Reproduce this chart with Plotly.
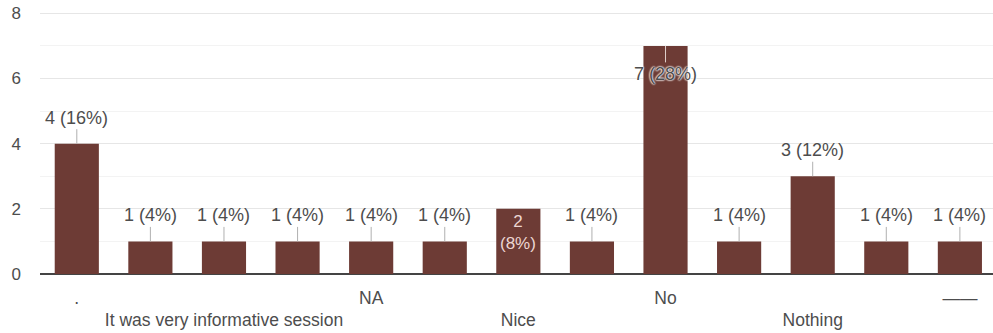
import plotly.graph_objects as go

categories = [".", "Good", "It was very informative session", "Informative", "NA",
              "Na", "Nice", "Nil", "No", "None", "Nothing", "Thank you", "——"]
counts = [4, 1, 1, 1, 1, 1, 2, 1, 7, 1, 3, 1, 1]
shown_ticks = [0, 2, 4, 6, 8, 10, 12]
second_row = [2, 6, 10]
y_ticks = [0, 2, 4, 6, 8]

total = sum(counts)
x = list(range(len(categories)))
BAR = "#6d3b35"
TXT = "#4d4d4d"

fig = go.Figure(go.Bar(x=x, y=counts, marker=dict(color=BAR, line=dict(width=0)),
                       width=0.6, hoverinfo="skip"))

for i, v in enumerate(counts):
    pct = round(100 * v / total)
    if v == 2:
        fig.add_annotation(x=i, y=v, text=f"{v}<br>({pct}%)", showarrow=False,
                           yanchor="top", yshift=-1,
                           font=dict(family="Arial", size=17, color="#ecd6d2"))
    elif v == max(counts):
        fig.add_annotation(x=i, y=v, text=f"{v} ({pct}%)", showarrow=True,
                           arrowhead=0, arrowwidth=1, arrowcolor="#e0d0cc",
                           ax=0, ay=28,
                           font=dict(family="Arial", size=18, color=TXT,
                                     shadow="0px 0px 2px white, 0px 0px 2px white, 0px 0px 2px white"))
    else:
        fig.add_annotation(x=i, y=v, text=f"{v} ({pct}%)", showarrow=True,
                           arrowhead=0, arrowwidth=1, arrowcolor="#b0b0b0",
                           ax=0, ay=-26,
                           font=dict(family="Arial", size=18, color=TXT))

ticktext = [("<br>" if i in second_row else "") + categories[i] for i in shown_ticks]

fig.update_layout(
    width=993, height=333,
    margin=dict(l=40, r=0, t=12, b=59),
    paper_bgcolor="white", plot_bgcolor="white",
    showlegend=False,
    font=dict(family="Arial", size=17, color=TXT),
    xaxis=dict(range=[-0.5, 12.45], tickmode="array", tickvals=shown_ticks,
               ticktext=ticktext, showgrid=False, zeroline=False, showline=False,
               ticks="", ticklabelstandoff=11, automargin=False,
               ticklabeloverflow="allow",
               tickfont=dict(family="Arial", size=17.5, color=TXT)),
    yaxis=dict(range=[0, 8.04], tickmode="array", tickvals=y_ticks,
               showgrid=True, gridcolor="#e6e6e6", gridwidth=1,
               minor=dict(dtick=1, showgrid=True, gridcolor="#f3f3f3", gridwidth=1),
               zeroline=True, zerolinecolor="#444444", zerolinewidth=1.5,
               ticks="", ticklabelstandoff=18, automargin=False,
               ticklabeloverflow="allow",
               tickfont=dict(family="Arial", size=17, color=TXT)),
)

# remove the default 8px page margin so the figure fills the 993x333 window exactly
fig.write_html("out.html", config={"displayModeBar": False},
               post_script="document.body.style.margin='0';document.body.style.overflow='hidden';")
